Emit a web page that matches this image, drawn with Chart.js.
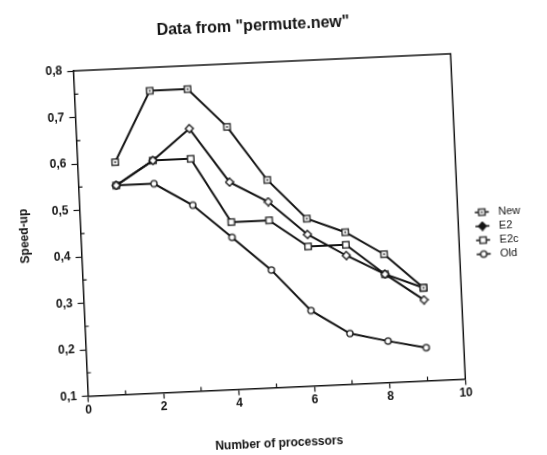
<!DOCTYPE html>
<html>
<head>
<meta charset="utf-8">
<title>Speed-up</title>
<script src="https://cdn.jsdelivr.net/npm/chart.js@4.4.1/dist/chart.umd.min.js"></script>
<style>
  html, body { margin: 0; padding: 0; background: #fff; }
  /* the printed page sits slightly askew */
  #frame {
    position: absolute; left: 0; top: 0;
    width: 547px; height: 455px;
    transform: rotate(-2.6deg);
    transform-origin: 273.5px 227.5px;
  }
</style>
</head>
<body>
<div id="frame"><canvas id="speedChart" width="547" height="455"></canvas></div>
<script>
const processors = [1, 2, 3, 4, 5, 6, 7, 8, 9];
const seriesNames = ['New', 'E2', 'E2c', 'Old'];
const speedNew = [0.60, 0.75, 0.75, 0.665, 0.547, 0.46, 0.427, 0.376, 0.30];
const speedE2  = [0.55, 0.60, 0.665, 0.546, 0.50, 0.426, 0.377, 0.333, 0.274];
const speedE2c = [0.55, 0.60, 0.60, 0.46, 0.46, 0.40, 0.40, 0.333, 0.30];
const speedOld = [0.55, 0.55, 0.50, 0.427, 0.353, 0.262, 0.209, 0.189, 0.171];
const yTickLabels = [0.1, 0.2, 0.3, 0.4, 0.5, 0.6, 0.7, 0.8];
const xTickLabels = [0, 2, 4, 6, 8, 10];

const ink = '#141414';

function isLabelled(list, v) {
    return list.some(t => Math.abs(t - v) < 1e-6);
}

// little marker shapes, drawn once onto canvases and reused as pointStyle
function drawMarker(g, shape, cx, cy, filled) {
    g.strokeStyle = ink;
    g.fillStyle = filled ? ink : '#fff';
    g.lineWidth = 1.3;
    g.beginPath();
    if (shape === 'square' || shape === 'squareDot') {
        g.rect(cx - 3.2, cy - 3.2, 6.4, 6.4);
    } else if (shape === 'diamond') {
        g.moveTo(cx, cy - 4); g.lineTo(cx + 4, cy); g.lineTo(cx, cy + 4); g.lineTo(cx - 4, cy);
        g.closePath();
    } else {
        g.arc(cx, cy, 3.1, 0, Math.PI * 2);
    }
    g.fill();
    g.stroke();
    if (shape === 'squareDot') {
        g.fillStyle = ink;
        g.fillRect(cx - 0.8, cy - 0.8, 1.6, 1.6);
    }
}

function pointIcon(shape) {
    const c = document.createElement('canvas');
    c.width = 10; c.height = 10;
    drawMarker(c.getContext('2d'), shape, 5, 5, false);
    return c;
}

// legend key: a short stroke with the marker in its middle
function legendIcon(shape, filled) {
    const c = document.createElement('canvas');
    c.width = 32; c.height = 10;
    const g = c.getContext('2d');
    g.strokeStyle = ink;
    g.lineWidth = 1.6;
    g.beginPath();
    g.moveTo(14, 5); g.lineTo(28, 5);
    g.stroke();
    drawMarker(g, shape, 21, 5, filled);
    return c;
}

const shapes = ['squareDot', 'diamond', 'square', 'circle'];
const legendFill = [false, true, false, false];
const allSeries = [speedNew, speedE2, speedE2c, speedOld];

const datasets = allSeries.map((vals, i) => ({
    label: seriesNames[i],
    data: processors.map((p, k) => ({ x: p, y: vals[k] })),
    borderColor: ink,
    borderWidth: 2,
    tension: 0,
    pointStyle: pointIcon(shapes[i]),
    pointRadius: 4,
    clip: false
}));

// top/right frame plus the short inward ticks between labelled values
const axisFrame = {
    id: 'axisFrame',
    afterDraw(chart) {
        const { ctx, chartArea: a, scales: { x, y } } = chart;
        ctx.save();
        ctx.strokeStyle = ink;
        ctx.lineWidth = 1.5;
        ctx.beginPath();
        ctx.moveTo(a.left, a.top);
        ctx.lineTo(a.right, a.top);
        ctx.lineTo(a.right, a.bottom);
        ctx.stroke();
        ctx.lineWidth = 1.2;
        ctx.beginPath();
        x.ticks.forEach(t => {
            if (isLabelled(xTickLabels, t.value)) return;
            const px = x.getPixelForValue(t.value);
            ctx.moveTo(px, a.bottom);
            ctx.lineTo(px, a.bottom - 4);
        });
        y.ticks.forEach(t => {
            if (isLabelled(yTickLabels, t.value)) return;
            const py = y.getPixelForValue(t.value);
            ctx.moveTo(a.left, py);
            ctx.lineTo(a.left + 4, py);
        });
        ctx.stroke();
        ctx.restore();
    }
};

const tickFont = { family: '"Liberation Sans", Arial, sans-serif', size: 12, weight: 'bold' };

new Chart(document.getElementById('speedChart'), {
    type: 'line',
    data: { datasets: datasets },
    options: {
        responsive: false,
        animation: false,
        events: [],
        layout: { padding: { left: 0, right: 22.7, top: 0, bottom: 0 } },
        scales: {
            x: {
                type: 'linear',
                min: 0,
                max: 10,
                afterFit: scale => { scale.height = 67.5; },
                ticks: {
                    stepSize: 1,
                    autoSkip: false,
                    maxRotation: 0,
                    padding: 1,
                    color: ink,
                    font: tickFont,
                    callback: v => isLabelled(xTickLabels, v) ? String(v) : ''
                },
                grid: {
                    drawOnChartArea: false,
                    tickLength: 6,
                    tickWidth: 1.2,
                    tickColor: c => isLabelled(xTickLabels, c.tick.value) ? ink : 'rgba(0,0,0,0)'
                },
                border: { color: ink, width: 1.5 },
                title: {
                    display: true,
                    text: 'Number of processors',
                    color: ink,
                    font: tickFont,
                    padding: { top: 0, bottom: 4 }
                }
            },
            y: {
                min: 0.1,
                max: 0.8,
                afterFit: scale => { scale.width = 80.5; },
                ticks: {
                    stepSize: 0.05,
                    autoSkip: false,
                    padding: 5,
                    color: ink,
                    font: tickFont,
                    callback: v => isLabelled(yTickLabels, v) ? v.toFixed(1).replace('.', ',') : ''
                },
                grid: {
                    drawOnChartArea: false,
                    tickLength: 6,
                    tickWidth: 1.2,
                    tickColor: c => isLabelled(yTickLabels, c.tick.value) ? ink : 'rgba(0,0,0,0)'
                },
                border: { color: ink, width: 1.5 },
                title: {
                    display: true,
                    text: 'Speed-up',
                    color: ink,
                    font: tickFont,
                    padding: { top: 17, bottom: 0 }
                }
            }
        },
        plugins: {
            title: {
                display: true,
                text: 'Data from "permute.new"',
                color: ink,
                font: { family: '"Liberation Sans", Arial, sans-serif', size: 16, weight: 'bold' },
                padding: { top: 15.7, bottom: 27.2 }
            },
            legend: {
                position: 'right',
                align: 'center',
                maxWidth: 66,
                // empty heading only used to push the keys a little lower
                title: { display: true, text: '', font: { size: 11 }, padding: { top: 9, bottom: 8 } },
                labels: {
                    usePointStyle: true,
                    pointStyleWidth: 32,
                    padding: 3,
                    color: ink,
                    font: { family: '"Liberation Sans", Arial, sans-serif', size: 11 },
                    generateLabels: chart => chart.data.datasets.map((ds, i) => ({
                        text: ds.label,
                        pointStyle: legendIcon(shapes[i], legendFill[i]),
                        datasetIndex: i,
                        hidden: false,
                        lineWidth: 0,
                        strokeStyle: 'rgba(0,0,0,0)',
                        fillStyle: 'rgba(0,0,0,0)',
                        fontColor: ink
                    }))
                }
            },
            tooltip: { enabled: false }
        }
    },
    plugins: [axisFrame]
});
</script>
</body>
</html>
